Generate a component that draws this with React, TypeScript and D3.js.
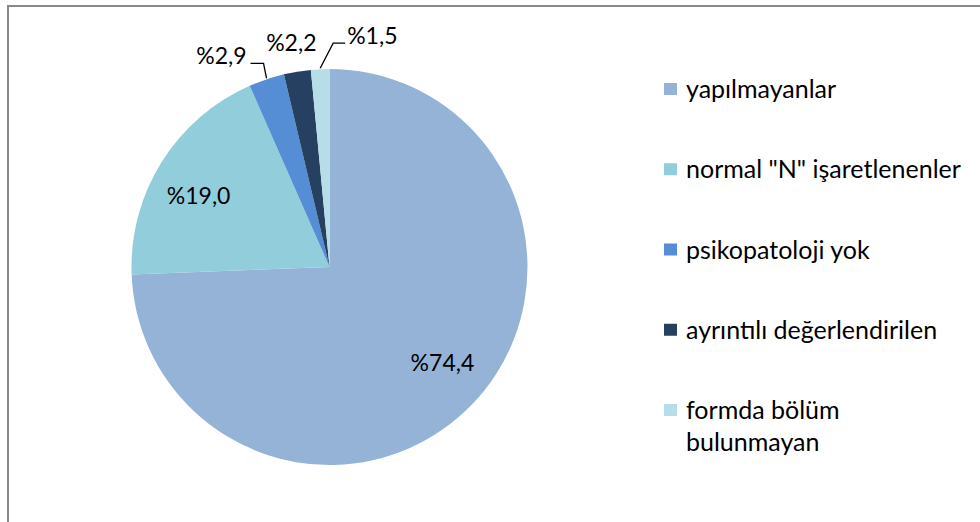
import React, { useEffect, useRef } from "react";
import * as d3 from "d3";

// Pie slices, clockwise from 12 o'clock
const categories = [
  "yapılmayanlar",
  'normal "N" işaretlenenler',
  "psikopatoloji yok",
  "ayrıntılı değerlendirilen",
  "formda bölüm bulunmayan",
];
const values = [74.4, 19.0, 2.9, 2.2, 1.5];
const valueLabels = ["%74,4", "%19,0", "%2,9", "%2,2", "%1,5"];
const legendLines = [
  ["yapılmayanlar"],
  ['normal "N" işaretlenenler'],
  ["psikopatoloji yok"],
  ["ayrıntılı değerlendirilen"],
  ["formda bölüm", "bulunmayan"],
];
const colors = ["#95B3D7", "#92CDDC", "#558ED5", "#254061", "#B7DEE8"];

export default function App() {
  const svgRef = useRef<SVGSVGElement | null>(null);

  useEffect(() => {
    const width = 980;
    const height = 522;
    const cx = 329.5;
    const cy = 267;
    const radius = 198;
    const font = "Lato, 'Open Sans', sans-serif";
    const labelSize = 23;
    const legendSize = 25;

    const svg = d3.select(svgRef.current)
      .attr("width", width)
      .attr("height", height)
      .attr("viewBox", [0, 0, width, height].join(" "));

    svg.selectAll("*").remove();

    svg.append("rect")
      .attr("width", width)
      .attr("height", height)
      .attr("fill", "#fff");

    // chart area border (only top and left are inside the picture)
    svg.append("rect")
      .attr("x", 8)
      .attr("y", 6)
      .attr("width", 1000)
      .attr("height", 600)
      .attr("fill", "none")
      .attr("stroke", "#898989")
      .attr("stroke-width", 2);

    const data = categories.map((c, i) => ({ name: c, value: values[i], label: valueLabels[i], color: colors[i] }));

    const pie = d3.pie<any>().sort(null).value(d => d.value);
    const arcs = pie(data);
    const arc = d3.arc<any>().innerRadius(0).outerRadius(radius);
    const innerLabelArc = d3.arc<any>().innerRadius(radius * 0.75).outerRadius(radius * 0.75);
    const edgeArc = d3.arc<any>().innerRadius(radius).outerRadius(radius);

    const g = svg.append("g").attr("transform", `translate(${cx},${cy})`);

    g.selectAll("path.slice")
      .data(arcs)
      .join("path")
      .attr("class", "slice")
      .attr("d", arc)
      .attr("fill", d => d.data.color);

    // small slices get their labels outside, the way Excel placed them
    const outside: Record<number, { dx: number; dy: number; anchor: string; leader: string | null }> = {
      2: { dx: -20, dy: -15, anchor: "end", leader: "elbowLeft" },
      3: { dx: -6, dy: -21, anchor: "middle", leader: null },
      4: { dx: 27, dy: -25, anchor: "start", leader: "elbowRight" },
    };

    arcs.forEach((d, i) => {
      const o = outside[i];
      if (!o) {
        const [x, y] = innerLabelArc.centroid(d);
        g.append("text")
          .attr("x", x + (i === 0 ? 6 : -5))
          .attr("y", y + (i === 0 ? -7 : 7))
          .attr("dy", "0.36em")
          .attr("text-anchor", "middle")
          .attr("font-family", font)
          .attr("font-size", labelSize)
          .attr("fill", "#000")
          .text(d.data.label);
        return;
      }
      const [ex, ey] = edgeArc.centroid(d);
      const tx = ex + o.dx;
      const ty = ey + o.dy;
      g.append("text")
        .attr("x", tx)
        .attr("y", ty)
        .attr("text-anchor", o.anchor)
        .attr("font-family", font)
        .attr("font-size", labelSize)
        .attr("fill", "#000")
        .text(d.data.label);

      const line = d3.line();
      if (o.leader === "elbowLeft") {
        g.append("path")
          .attr("d", line([[ex, ey - 1], [ex - 3, ty - 1], [tx + 4, ty - 1]]))
          .attr("fill", "none")
          .attr("stroke", "#000")
          .attr("stroke-width", 1.3);
      } else if (o.leader === "elbowRight") {
        g.append("path")
          .attr("d", line([[ex, ey - 1], [ex + 13, ty - 1], [tx - 2, ty - 1]]))
          .attr("fill", "none")
          .attr("stroke", "#000")
          .attr("stroke-width", 1.3);
      }
    });

    // legend
    const legendY = d3.scaleLinear().domain([0, categories.length - 1]).range([89, 410]);
    const legend = svg.append("g");
    legendLines.forEach((lines, i) => {
      const y = legendY(i);
      legend.append("rect")
        .attr("x", 664)
        .attr("y", y - 6)
        .attr("width", 13)
        .attr("height", 12)
        .attr("fill", colors[i]);
      const t = legend.append("text")
        .attr("font-family", font)
        .attr("font-size", legendSize)
        .attr("fill", "#000");
      lines.forEach((ln, j) => {
        t.append("tspan")
          .attr("x", 686)
          .attr("y", y + j * 32)
          .attr("dy", "0.36em")
          .text(ln);
      });
    });

    return () => {
      d3.select(svgRef.current).selectAll("*").remove();
    };
  }, []);

  return (
    <div style={{ position: "absolute", left: 0, top: 0 }}>
      <svg ref={svgRef} style={{ display: "block" }} />
    </div>
  );
}
